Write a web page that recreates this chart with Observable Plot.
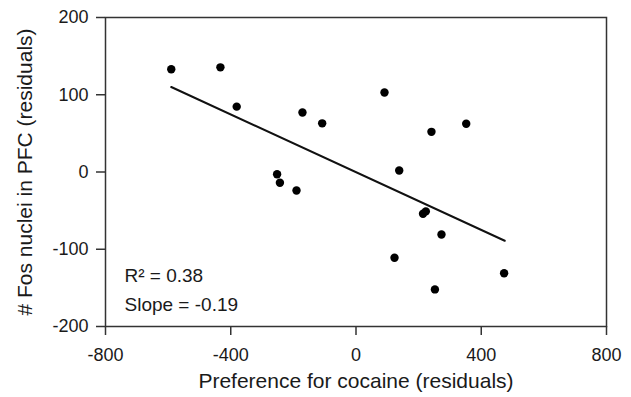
<!DOCTYPE html>
<html><head><meta charset="utf-8">
<script src="https://cdn.jsdelivr.net/npm/d3@7"></script>
<script src="https://cdn.jsdelivr.net/npm/@observablehq/plot@0.6"></script>
<style>body{margin:0;background:#fff}</style>
</head><body><div id="chart"></div>
<script>
const prefX = [-590,-433,-381,-171,-108,-252,-243,-190,91,352,241,138,214,223,273,123,473,252];
const fosY  = [133,135.5,84.6,77,63,-3,-14,-24,103,62.5,52,2,-54,-51,-81,-111,-131,-152];
const fitX = [-590, 475];
const fitY = [110, -89];
const xTicks = [-800,-400,0,400,800];
const yTicks = [-200,-100,0,100,200];
const xTitle = "Preference for cocaine (residuals)";
const yTitle = "# Fos nuclei in PFC (residuals)";
const statR2 = "R² = 0.38";
const statSlope = "Slope = -0.19";

const pts = prefX.map((x,i)=>({x, y: fosY[i]}));
const fit = fitX.map((x,i)=>({x, y: fitY[i]}));
const font = "'Liberation Sans', Arial, Helvetica, sans-serif";
const ink = "#1a1a1a";

const chart = Plot.plot({
  width: 631, height: 397,
  marginLeft: 105, marginRight: 25, marginTop: 17, marginBottom: 71,
  style: {fontFamily: font, fontSize: "18px", color: ink, background: "#fff"},
  x: {domain: [-800, 800]},
  y: {domain: [-200, 200]},
  marks: [
    Plot.frame({stroke: "#333", strokeWidth: 1.5}),
    Plot.axisX({ticks: xTicks, tickSize: 9, tickPadding: 13, tickFormat: d => String(d), fontSize: 18, stroke: "#333", strokeWidth: 1.5, fill: ink, label: null}),
    Plot.axisY({ticks: yTicks, tickSize: 9, tickPadding: 8, tickFormat: d => String(d), fontSize: 18, stroke: "#333", strokeWidth: 1.5, fill: ink, label: null}),
    Plot.text([xTitle], {text: d => d, frameAnchor: "bottom", textAnchor: "middle", dy: 61, fontSize: 21, fill: ink}),
    Plot.text([yTitle], {text: d => d, frameAnchor: "left", textAnchor: "middle", dx: -80, rotate: -90, fontSize: 21, fill: ink}),
    Plot.line(fit, {x: "x", y: "y", stroke: "#111", strokeWidth: 2}),
    Plot.dot(pts, {x: "x", y: "y", r: 4.2, fill: "#000"}),
    Plot.text([statR2], {text: d => d, frameAnchor: "bottom-left", textAnchor: "start", lineAnchor: "middle", dx: 19, dy: -51, fontSize: 19, fill: ink}),
    Plot.text([statSlope], {text: d => d, frameAnchor: "bottom-left", textAnchor: "start", lineAnchor: "middle", dx: 19, dy: -22, fontSize: 19, fill: ink})
  ]
});
document.getElementById("chart").append(chart);
</script></body></html>
